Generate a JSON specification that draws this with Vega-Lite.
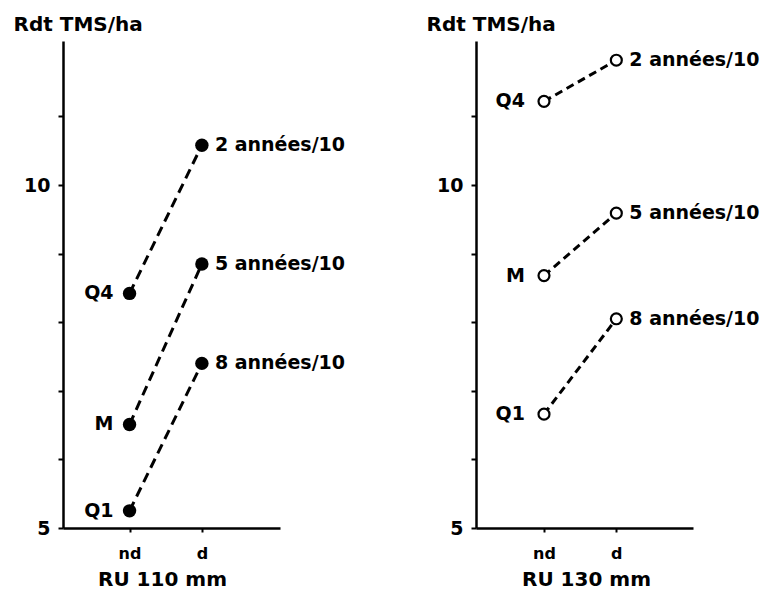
{
  "$schema": "https://vega.github.io/schema/vega-lite/v6.json",
  "background": "white",
  "padding": {"left": 13, "top": 14, "right": 5, "bottom": 5},
  "bounds": "flush",
  "spacing": 196,
  "config": {
    "font": "DejaVu Sans",
    "view": {"stroke": null},
    "axis": {
      "grid": false,
      "domainColor": "black",
      "domainWidth": 2.5,
      "tickColor": "black",
      "tickWidth": 2,
      "labelColor": "black",
      "titleColor": "black",
      "labelFont": "DejaVu Sans",
      "titleFont": "DejaVu Sans",
      "labelFontWeight": "bold",
      "titleFontWeight": "bold"
    },
    "text": {"font": "DejaVu Sans", "fontWeight": "bold", "fontSize": 19, "color": "black"}
  },
  "datasets": {
    "ru110": [
      {"group": "Q4", "cond": "nd", "rdt": 8.42, "label": "Q4"},
      {"group": "Q4", "cond": "d", "rdt": 10.58, "label": "2 années/10"},
      {"group": "M", "cond": "nd", "rdt": 6.51, "label": "M"},
      {"group": "M", "cond": "d", "rdt": 8.85, "label": "5 années/10"},
      {"group": "Q1", "cond": "nd", "rdt": 5.25, "label": "Q1"},
      {"group": "Q1", "cond": "d", "rdt": 7.40, "label": "8 années/10"}
    ],
    "ru130": [
      {"group": "Q4", "cond": "nd", "rdt": 11.22, "label": "Q4"},
      {"group": "Q4", "cond": "d", "rdt": 11.82, "label": "2 années/10"},
      {"group": "M", "cond": "nd", "rdt": 8.68, "label": "M"},
      {"group": "M", "cond": "d", "rdt": 9.59, "label": "5 années/10"},
      {"group": "Q1", "cond": "nd", "rdt": 6.66, "label": "Q1"},
      {"group": "Q1", "cond": "d", "rdt": 8.05, "label": "8 années/10"}
    ]
  },
  "hconcat": [
    {
      "width": 217,
      "height": 487,
      "data": {"name": "ru110"},
      "encoding": {
        "x": {
          "field": "cond",
          "type": "nominal",
          "sort": ["nd", "d"],
          "scale": {"type": "point", "domain": ["nd", "d"], "padding": 1.072, "align": 0.46},
          "axis": {
            "title": "RU 110 mm",
            "titleFontSize": 20,
            "titleX": 99,
            "titleY": 57,
            "titleBaseline": "alphabetic",
            "titleAnchor": null,
            "labelAngle": 0,
            "labelFontSize": 16,
            "tickSize": 4,
            "labelPadding": 13
          }
        },
        "y": {
          "field": "rdt",
          "type": "quantitative",
          "scale": {"domain": [5, 12.1], "nice": false, "zero": false},
          "axis": {
            "title": "Rdt TMS/ha",
            "titleFontSize": 20,
            "titleAngle": 0,
            "titleAlign": "left",
            "titleBaseline": "alphabetic",
            "titleX": -50,
            "titleY": -11,
            "values": [5, 6, 7, 8, 9, 10, 11],
            "labelExpr": "datum.value == 5 || datum.value == 10 ? datum.label : ''",
            "labelFontSize": 19,
            "tickSize": 5,
            "labelPadding": 8
          }
        }
      },
      "layer": [
        {
          "mark": {"type": "line", "color": "black", "strokeWidth": 3, "strokeDash": [10, 6]},
          "encoding": {"detail": {"field": "group"}}
        },
        {
          "mark": {"type": "point", "filled": true, "color": "black", "size": 180, "opacity": 1}
        },
        {
          "transform": [{"filter": "datum.cond == 'nd'"}],
          "mark": {"type": "text", "align": "right", "baseline": "middle", "dx": -16},
          "encoding": {"text": {"field": "label"}}
        },
        {
          "transform": [{"filter": "datum.cond == 'd'"}],
          "mark": {"type": "text", "align": "left", "baseline": "middle", "dx": 13},
          "encoding": {"text": {"field": "label"}}
        }
      ]
    },
    {
      "width": 217,
      "height": 487,
      "data": {"name": "ru130"},
      "encoding": {
        "x": {
          "field": "cond",
          "type": "nominal",
          "sort": ["nd", "d"],
          "scale": {"type": "point", "domain": ["nd", "d"], "padding": 1.072, "align": 0.47},
          "axis": {
            "title": "RU 130 mm",
            "titleFontSize": 20,
            "titleX": 110,
            "titleY": 57,
            "titleBaseline": "alphabetic",
            "titleAnchor": null,
            "labelAngle": 0,
            "labelFontSize": 16,
            "tickSize": 4,
            "labelPadding": 13
          }
        },
        "y": {
          "field": "rdt",
          "type": "quantitative",
          "scale": {"domain": [5, 12.1], "nice": false, "zero": false},
          "axis": {
            "title": "Rdt TMS/ha",
            "titleFontSize": 20,
            "titleAngle": 0,
            "titleAlign": "left",
            "titleBaseline": "alphabetic",
            "titleX": -50,
            "titleY": -11,
            "values": [5, 6, 7, 8, 9, 10, 11],
            "labelExpr": "datum.value == 5 || datum.value == 10 ? datum.label : ''",
            "labelFontSize": 19,
            "tickSize": 5,
            "labelPadding": 8
          }
        }
      },
      "layer": [
        {
          "mark": {"type": "line", "color": "black", "strokeWidth": 3, "strokeDash": [8, 5]},
          "encoding": {"detail": {"field": "group"}}
        },
        {
          "mark": {"type": "point", "filled": true, "fill": "white", "stroke": "black", "strokeWidth": 2.2, "size": 120, "opacity": 1}
        },
        {
          "transform": [{"filter": "datum.cond == 'nd'"}],
          "mark": {"type": "text", "align": "right", "baseline": "middle", "dx": -19},
          "encoding": {"text": {"field": "label"}}
        },
        {
          "transform": [{"filter": "datum.cond == 'd'"}],
          "mark": {"type": "text", "align": "left", "baseline": "middle", "dx": 13},
          "encoding": {"text": {"field": "label"}}
        }
      ]
    }
  ]
}
